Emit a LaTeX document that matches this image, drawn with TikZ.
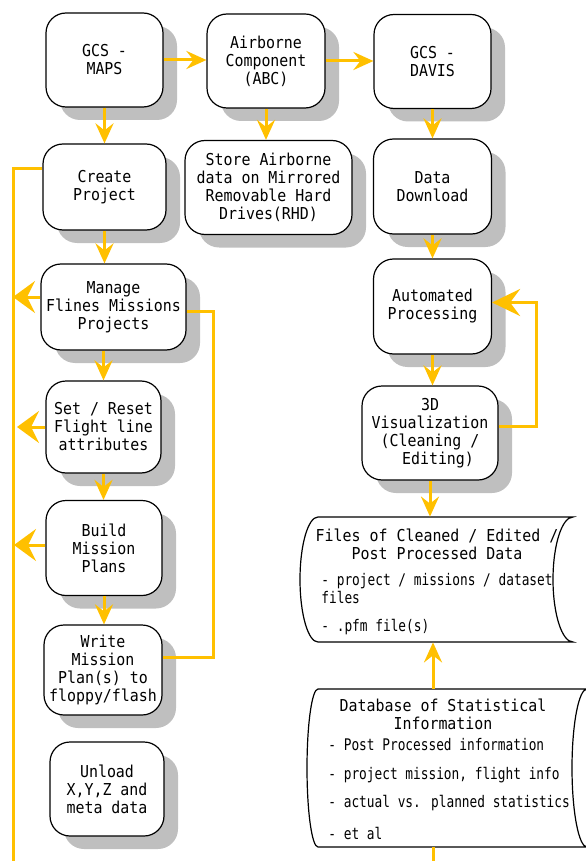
\documentclass[tikz,border=0pt]{standalone}
\usepackage{fontspec}
\setmonofont[FakeStretch=0.91]{DejaVu Sans Mono}
\newfontfamily\itemfont[FakeStretch=0.8]{DejaVu Sans Mono}
\usepackage{tikz}
\usetikzlibrary{arrows.meta,shadows}
\definecolor{flowyellow}{RGB}{255,192,0}
\tikzstyle{block}=[draw=black,line width=0.6pt,rounded corners=10pt,fill=white,align=center,minimum width=59pt,minimum height=47pt,inner xsep=2pt,font=\ttfamily\fontsize{8.2}{9}\selectfont,drop shadow={shadow xshift=7pt,shadow yshift=-6.5pt,fill=black!25,opacity=1}]
\tikzstyle{flow}=[draw=flowyellow,line width=1.5pt,-{Stealth[length=10pt,width=9pt,inset=3.5pt]}]
\tikzstyle{side flow}=[flow,-{Stealth[length=11pt,width=16pt,inset=4pt]}]
\tikzstyle{loop flow}=[flow,-{Stealth[length=14pt,width=13.5pt,inset=5pt]}]
\tikzstyle{rail}=[draw=flowyellow,line width=1.5pt,-]
\tikzstyle{store}=[draw=black,line width=0.6pt,fill=white]
\tikzstyle{store title}=[align=center,inner sep=0pt,font=\ttfamily\fontsize{8.2}{9}\selectfont]
\tikzstyle{store item}=[anchor=west,align=left,inner sep=0pt,font=\itemfont\fontsize{8}{7.5}\selectfont]

\begin{document}
\begin{tikzpicture}[x=0.5pt,y=-0.5pt]
    \useasboundingbox (0,0) rectangle (585,861);

    % First the process boxes
    \node[block,minimum width=58.5pt] (maps) at (104.5,60) {GCS -\\MAPS};
    \node[block] (abc) at (266,61) {Airborne\\Component\\(ABC)};
    \node[block,minimum width=58.5pt] (davis) at (432.5,61.5) {GCS -\\DAVIS};
    \node[block,minimum width=61.5pt,minimum height=43pt] (create) at (104.5,187) {Create\\Project};
    \node[block,minimum width=83.5pt] (store) at (268.5,187.5) {Store Airborne\\data on Mirrored\\Removable Hard\\Drives(RHD)};
    \node[block,minimum height=47.5pt] (download) at (432.5,186.5) {Data\\Download};
    \node[block,minimum width=72.5pt,minimum height=43pt] (manage) at (113.5,307) {Manage\\Flines Missions\\Projects};
    \node[block,minimum height=47.5pt] (auto) at (432.5,306.5) {Automated\\Processing};
    \node[block,minimum width=57.5pt,minimum height=46pt] (setreset) at (103.5,427) {Set / Reset\\Flight line\\attributes};
    \node[block,minimum width=68pt] (viz) at (430,433) {3D\\Visualization\\(Cleaning /\\\hspace*{8pt}Editing)};
    \node[block,minimum width=58pt,minimum height=47.5pt] (build) at (104,548) {Build\\Mission\\Plans};
    \node[block,minimum width=59pt,minimum height=45pt] (write) at (103,670) {Write\\Mission\\Plan(s) to\\floppy/flash};
    \node[block,minimum width=57pt] (unload) at (107,789) {Unload\\X,Y,Z and\\meta data};

    % Stored data shapes
    \path[store] (318,517) -- (573,517) arc[start angle=90,end angle=270,x radius=10pt,y radius=31.25pt]
        -- (318,642) arc[start angle=270,end angle=90,x radius=9pt,y radius=31.25pt] -- cycle;
    \path[store] (318,689) -- (587,689) arc[start angle=90,end angle=270,x radius=7.5pt,y radius=39.5pt]
        -- (318,847) arc[start angle=270,end angle=90,x radius=5.5pt,y radius=39.5pt] -- cycle;
    \node[minimum width=136pt,minimum height=62.5pt] (files) at (436.5,579.5) {};
    \node[minimum width=125pt,minimum height=79pt] (db) at (433,768) {};

    \node[store title] (filestitle) at (437,544) {Files of Cleaned / Edited /\\Post Processed Data};
    \node[store item] (filesA) at (321,588.5) {- project / missions / dataset\\files};
    \node[store item] (filesB) at (321,627) {- .pfm file(s)};
    \node[store title] (dbtitle) at (443,714) {Database of Statistical\\Information};
    \node[store item] (dbA) at (328,745) {- Post Processed information};
    \node[store item] (dbB) at (328,775) {- project mission, flight info};
    \node[store item] (dbC) at (328,803) {- actual vs. planned statistics};
    \node[store item] (dbD) at (328,833) {- et al};

    % Connect boxes with arrows
    \foreach \source/\dest in {maps/abc, abc/davis}
        \path[flow] (\source.east) -- (\source.east -| \dest.west);
    \foreach \source/\dest in {maps/create, abc/store, davis/download, create/manage, download/auto, auto/viz, setreset/build, build/write, viz/files}
        \path[flow] (\source.south) -- (\source.south |- \dest.north);
    \path[flow] (setreset.north |- manage.south) -- (setreset.north);

    % Left rail and side arrows
    \coordinate (railbot) at (13,861);
    \path[rail] ([yshift=9pt]create.west) -| (railbot);
    \path[side flow] ([yshift=5pt]manage.west) -- ([yshift=5pt]manage.west -| railbot);
    \path[side flow] (setreset.west) -- ([xshift=2pt]setreset.west -| railbot);
    \path[side flow] ([yshift=1.5pt]build.west) -- ([yshift=1.5pt,xshift=0.5pt]build.west -| railbot);
    \path[rail] ([yshift=-2pt]manage.east) -- ++(27,0) |- ([yshift=6.5pt]write.east);

    % Processing loop and database
    \path[loop flow] ([yshift=3.5pt]viz.east) -- ++(38,0) |- ([yshift=2pt]auto.east);
    \path[flow] (db.north) -- (db.north |- files.south);
    \path[rail] (db.south) -- (db.south |- railbot);
\end{tikzpicture}
\end{document}
